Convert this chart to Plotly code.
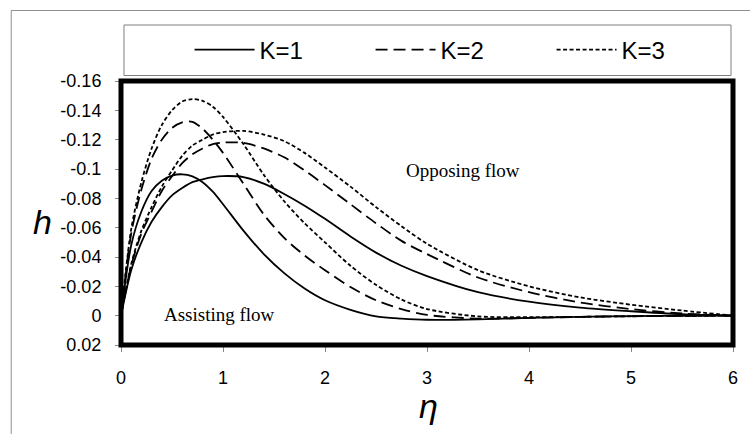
import plotly.graph_objects as go

# similarity variable
eta = [0, 0.1, 0.2, 0.3, 0.4, 0.5, 0.6, 0.7, 0.8, 0.9, 1.0, 1.2, 1.4, 1.6, 1.8,
       2.0, 2.25, 2.5, 2.75, 3.0, 3.5, 4.0, 4.5, 5.0, 5.5, 6.0]

# h profiles, assisting flow
assist_k1 = [0, -0.048, -0.071, -0.085, -0.092, -0.0955, -0.0964, -0.095, -0.091, -0.0845,
             -0.076, -0.058, -0.042, -0.029, -0.0185, -0.0105, -0.004, 0.0005, 0.002, 0.0028,
             0.0025, 0.0015, 0.0008, 0.0003, 0.0001, 0]
assist_k2 = [0, -0.056, -0.086, -0.107, -0.120, -0.128, -0.1318, -0.1322, -0.1275, -0.120,
             -0.111, -0.090, -0.069, -0.053, -0.041, -0.031, -0.0195, -0.0105, -0.0045, -0.0005,
             0.002, 0.0015, 0.0008, 0.0004, 0.0001, 0]
assist_k3 = [0, -0.059, -0.091, -0.114, -0.130, -0.140, -0.146, -0.1477, -0.1465, -0.1425,
             -0.1355, -0.117, -0.096, -0.078, -0.063, -0.050, -0.034, -0.021, -0.011, -0.0045,
             0.0005, 0.001, 0.0008, 0.0004, 0.0001, 0]

# h profiles, opposing flow
oppose_k1 = [0, -0.031, -0.050, -0.064, -0.074, -0.082, -0.087, -0.091, -0.093, -0.0945,
             -0.0952, -0.0945, -0.090, -0.083, -0.075, -0.066, -0.054, -0.043, -0.034, -0.027,
             -0.016, -0.0095, -0.0055, -0.003, -0.001, 0]
oppose_k2 = [0, -0.034, -0.056, -0.071, -0.085, -0.095, -0.104, -0.110, -0.114, -0.117,
             -0.118, -0.1178, -0.114, -0.108, -0.099, -0.089, -0.076, -0.063, -0.051, -0.042,
             -0.026, -0.016, -0.009, -0.0045, -0.0015, 0]
oppose_k3 = [0, -0.035, -0.058, -0.074, -0.088, -0.099, -0.109, -0.116, -0.120, -0.1235,
             -0.1252, -0.126, -0.1235, -0.119, -0.111, -0.101, -0.088, -0.074, -0.061, -0.049,
             -0.031, -0.020, -0.0125, -0.0075, -0.0035, 0]

k_labels = ["K=1", "K=2", "K=3"]
x_ticks = [0, 1, 2, 3, 4, 5, 6]
y_ticks = [-0.16, -0.14, -0.12, -0.1, -0.08, -0.06, -0.04, -0.02, 0, 0.02]
y_ticktext = ["-0.16", "-0.14", "-0.12", "-0.1", "-0.08", "-0.06", "-0.04", "-0.02", "0", "0.02"]

dash_styles = ["solid", "12px,6px", "4px,2.5px"]

fig = go.Figure()
for i, (a, o) in enumerate(zip([assist_k1, assist_k2, assist_k3],
                                [oppose_k1, oppose_k2, oppose_k3])):
    style = dict(color="black", width=1.8, dash=dash_styles[i], shape="spline", smoothing=0.8)
    fig.add_trace(go.Scatter(x=eta, y=a, mode="lines", line=style, name=k_labels[i],
                             legendgroup=k_labels[i], showlegend=True))
    fig.add_trace(go.Scatter(x=eta, y=o, mode="lines", line=style, name=k_labels[i],
                             legendgroup=k_labels[i], showlegend=False))

W, H = 750, 434
L, R, T, B = 121, 13, 81, 89
pw, ph = W - L - R, H - T - B


def px_x(x):
    return (x - L) / pw


def px_y(y):
    return (H - B - y) / ph


sans = "Liberation Sans, Arial, sans-serif"
serif = "Liberation Serif, Times New Roman, serif"
tick_font = dict(family=sans, size=18, color="black")


def label(text, x, y, family, size):
    return dict(text=text, xref="paper", yref="paper", x=px_x(x), y=px_y(y),
                xanchor="center", yanchor="middle", showarrow=False,
                font=dict(family=family, size=size, color="black"))


fig.update_layout(
    width=W, height=H,
    margin=dict(l=L, r=R, t=T, b=B, pad=0),
    paper_bgcolor="white", plot_bgcolor="white",
    font=dict(family=sans, color="black"),
    xaxis=dict(range=[0, 6], tickvals=x_ticks, ticks="outside", ticklen=6, tickcolor="#888",
               tickwidth=1, showgrid=False, zeroline=False, showline=False,
               tickfont=tick_font, ticklabelstandoff=10),
    yaxis=dict(range=[0.02, -0.16], tickvals=y_ticks, ticktext=y_ticktext, ticks="outside",
               ticklen=5, tickcolor="#888", tickwidth=1, showgrid=False, zeroline=False,
               showline=False, tickfont=tick_font, ticklabelstandoff=10),
    legend=dict(orientation="h", x=px_x(190), xanchor="left", y=px_y(50), yanchor="middle",
                entrywidth=106, itemwidth=60, bgcolor="rgba(0,0,0,0)", borderwidth=0,
                font=dict(family=sans, size=24, color="black")),
    shapes=[
        dict(type="rect", xref="paper", yref="paper", x0=0, x1=1, y0=0, y1=1,
             line=dict(color="black", width=5), layer="above"),
        dict(type="rect", xref="paper", yref="paper", x0=px_x(124), x1=px_x(735),
             y0=px_y(75.5), y1=px_y(25), line=dict(color="#808080", width=1)),
        dict(type="rect", xref="paper", yref="paper", x0=px_x(10.5), x1=px_x(800),
             y0=px_y(480), y1=px_y(10.5), line=dict(color="#909090", width=1)),
    ],
    annotations=[
        label("<i>h</i>", 42, 222, sans, 34),
        label("<i>η</i>", 431, 406, sans, 34),
        label("Opposing flow", 465, 170, serif, 19),
        label("Assisting flow", 220, 314, serif, 19),
    ],
)

fig.write_html("out.html")
